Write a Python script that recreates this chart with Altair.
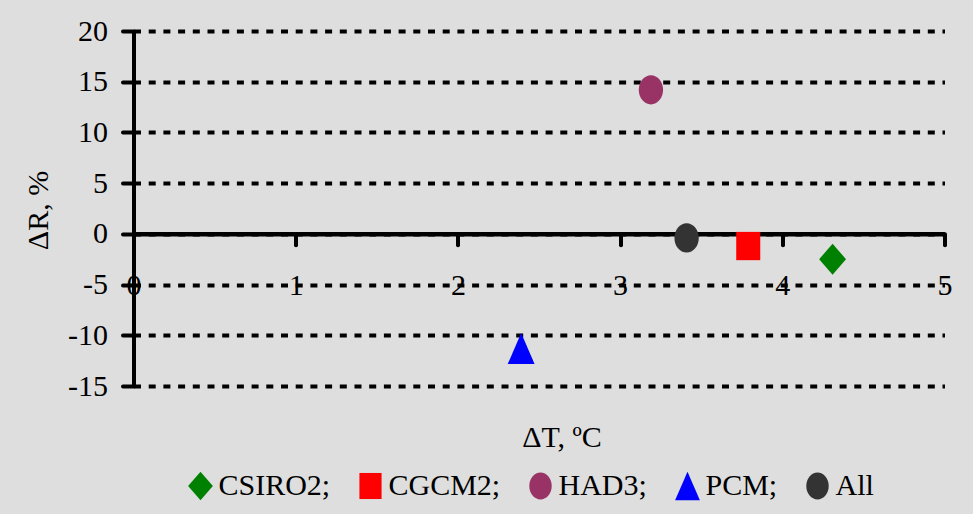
import altair as alt
import pandas as pd

# data
models = ["CSIRO2", "CGCM2", "HAD3", "PCM", "All"]
delta_t = [4.31, 3.79, 3.19, 2.39, 3.41]
delta_r = [-2.5, -1.2, 14.2, -11.3, -0.4]
colors = ["#008000", "#ff0000", "#993366", "#0000ff", "#333333"]
x_ticks = [0, 1, 2, 3, 4, 5]
y_ticks = [-15, -10, -5, 0, 5, 10, 15, 20]

# marker outlines (custom symbol paths in the [-1, 1] box)
shapes = [
    "M0,-1.1L0.95,0L0,1.1L-0.95,0Z",
    "M-0.85,-1L0.85,-1L0.85,1L-0.85,1Z",
    "M0,-1.03A0.86,1.03,0,1,1,0,1.03A0.86,1.03,0,1,1,0,-1.03Z",
    "M0,-1.1L0.95,1.1L-0.95,1.1Z",
    "M0,-1.03A0.86,1.03,0,1,1,0,1.03A0.86,1.03,0,1,1,0,-1.03Z",
]

df = pd.DataFrame({"model": models, "dT": delta_t, "dR": delta_r})

FONT = "Liberation Serif, Times New Roman, DejaVu Serif, serif"
FS = 30

chart = (
    alt.Chart(df)
    .mark_point(filled=True, opacity=1, size=800, strokeWidth=0)
    .encode(
        x=alt.X(
            "dT:Q",
            scale=alt.Scale(domain=[0, 5], nice=False, zero=False),
            axis=alt.Axis(
                values=x_ticks,
                title="ΔT, ºC",
                offset=-152.14,
                grid=False,
                domainColor="black",
                domainWidth=4.5,
                tickColor="black",
                tickWidth=4,
                tickSize=11,
                tickCap="round",
                labelFont=FONT,
                labelFontSize=FS,
                labelColor="black",
                labelPadding=41,
                labelBaseline="middle",
                labelFlush=False,
                labelOverlap=False,
                labelExpr="toString(datum.value)",
                titleFont=FONT,
                titleFontSize=FS,
                titleFontWeight="normal",
                titleColor="black",
                titleX=428,
                titleY=204,
                titleAlign="center",
                titleBaseline="middle",
            ),
        ),
        y=alt.Y(
            "dR:Q",
            scale=alt.Scale(domain=[-15, 20], nice=False, zero=False),
            axis=alt.Axis(
                values=y_ticks,
                title="ΔR, %",
                grid=True,
                gridColor="black",
                gridWidth=4,
                gridDash=[7, 7.7],
                gridOpacity=1,
                domainColor="black",
                domainWidth=4,
                tickColor="black",
                tickWidth=4,
                tickSize=11,
                tickCap="round",
                labelFont=FONT,
                labelFontSize=FS,
                labelColor="black",
                labelPadding=15,
                labelBaseline="middle",
                labelExpr="toString(datum.value)",
                titleFont=FONT,
                titleFontSize=FS,
                titleFontWeight="normal",
                titleColor="black",
                titleX=-95,
                titleY=179,
                titleAngle=270,
                titleAlign="center",
                titleBaseline="middle",
            ),
        ),
        color=alt.Color(
            "model:N",
            scale=alt.Scale(domain=models, range=colors),
            legend=alt.Legend(
                title=None,
                orient="none",
                direction="horizontal",
                columns=5,
                legendX=52,
                legendY=440,
                padding=0,
                symbolSize=680,
                symbolStrokeWidth=0,
                symbolOpacity=1,
                labelFont=FONT,
                labelFontSize=FS,
                labelColor="black",
                labelOffset=3,
                columnPadding=25,
                labelLimit=300,
                labelExpr="datum.label == 'All' ? 'All' : datum.label + ';'",
            ),
        ),
        shape=alt.Shape(
            "model:N",
            scale=alt.Scale(domain=models, range=shapes),
        ),
    )
    .properties(
        width=811,
        height=355,
        autosize=alt.AutoSizeParams(type="none"),
        padding={"left": 133.5, "top": 31, "right": 28.5, "bottom": 128},
        background="#dedede",
    )
    .configure_view(stroke=None)
)

chart.save("out.html", embed_options={"renderer": "svg", "actions": False})
